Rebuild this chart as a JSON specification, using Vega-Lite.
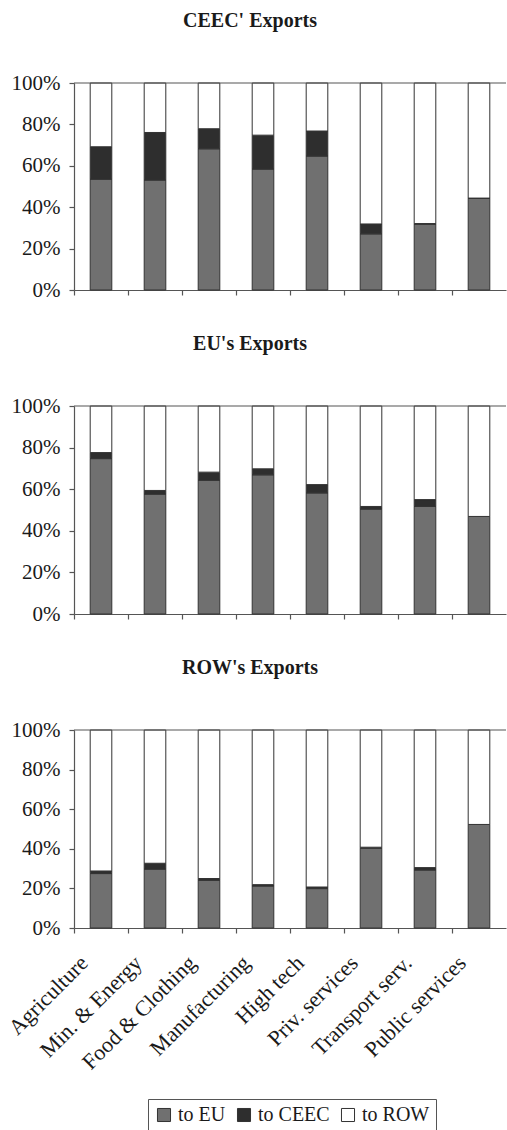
{
  "$schema": "https://vega.github.io/schema/vega-lite/v6.json",
  "background": "white",
  "padding": {"left": 4, "top": 11, "right": 0, "bottom": 0},
  "config": {
    "font": "Liberation Serif",
    "view": {"stroke": null},
    "concat": {"spacing": 34},
    "axis": {
      "grid": false,
      "domainColor": "#555555",
      "tickColor": "#555555",
      "domainWidth": 1.2,
      "tickWidth": 1.2,
      "tickSize": 5,
      "labelColor": "#1a1a1a",
      "labelFont": "Liberation Serif",
      "labelFontSize": 21,
      "labelOverlap": false,
      "title": null
    },
    "title": {
      "font": "Liberation Serif",
      "fontSize": 20,
      "fontWeight": "bold",
      "color": "#1a1a1a",
      "dx": -40,
      "offset": 41
    },
    "legend": {
      "orient": "none",
      "legendX": 74,
      "legendY": 1016
    }
  },
  "datasets": {
    "ceec": [
      {"sector": "Agriculture", "dest": "to EU", "share": 53.5, "ord": 1},
      {"sector": "Agriculture", "dest": "to CEEC", "share": 15.7, "ord": 2},
      {"sector": "Agriculture", "dest": "to ROW", "share": 30.8, "ord": 3},
      {"sector": "Min. & Energy", "dest": "to EU", "share": 53.1, "ord": 1},
      {"sector": "Min. & Energy", "dest": "to CEEC", "share": 23.0, "ord": 2},
      {"sector": "Min. & Energy", "dest": "to ROW", "share": 23.9, "ord": 3},
      {"sector": "Food & Clothing", "dest": "to EU", "share": 68.2, "ord": 1},
      {"sector": "Food & Clothing", "dest": "to CEEC", "share": 9.7, "ord": 2},
      {"sector": "Food & Clothing", "dest": "to ROW", "share": 22.1, "ord": 3},
      {"sector": "Manufacturing", "dest": "to EU", "share": 58.4, "ord": 1},
      {"sector": "Manufacturing", "dest": "to CEEC", "share": 16.4, "ord": 2},
      {"sector": "Manufacturing", "dest": "to ROW", "share": 25.2, "ord": 3},
      {"sector": "High tech", "dest": "to EU", "share": 64.7, "ord": 1},
      {"sector": "High tech", "dest": "to CEEC", "share": 12.1, "ord": 2},
      {"sector": "High tech", "dest": "to ROW", "share": 23.2, "ord": 3},
      {"sector": "Priv. services", "dest": "to EU", "share": 27.1, "ord": 1},
      {"sector": "Priv. services", "dest": "to CEEC", "share": 4.8, "ord": 2},
      {"sector": "Priv. services", "dest": "to ROW", "share": 68.1, "ord": 3},
      {"sector": "Transport serv.", "dest": "to EU", "share": 31.8, "ord": 1},
      {"sector": "Transport serv.", "dest": "to CEEC", "share": 0.3, "ord": 2},
      {"sector": "Transport serv.", "dest": "to ROW", "share": 67.9, "ord": 3},
      {"sector": "Public services", "dest": "to EU", "share": 44.4, "ord": 1},
      {"sector": "Public services", "dest": "to CEEC", "share": 0, "ord": 2},
      {"sector": "Public services", "dest": "to ROW", "share": 55.6, "ord": 3}
    ],
    "eu": [
      {"sector": "Agriculture", "dest": "to EU", "share": 74.7, "ord": 1},
      {"sector": "Agriculture", "dest": "to CEEC", "share": 2.9, "ord": 2},
      {"sector": "Agriculture", "dest": "to ROW", "share": 22.4, "ord": 3},
      {"sector": "Min. & Energy", "dest": "to EU", "share": 57.6, "ord": 1},
      {"sector": "Min. & Energy", "dest": "to CEEC", "share": 1.8, "ord": 2},
      {"sector": "Min. & Energy", "dest": "to ROW", "share": 40.6, "ord": 3},
      {"sector": "Food & Clothing", "dest": "to EU", "share": 64.3, "ord": 1},
      {"sector": "Food & Clothing", "dest": "to CEEC", "share": 3.9, "ord": 2},
      {"sector": "Food & Clothing", "dest": "to ROW", "share": 31.8, "ord": 3},
      {"sector": "Manufacturing", "dest": "to EU", "share": 66.9, "ord": 1},
      {"sector": "Manufacturing", "dest": "to CEEC", "share": 2.9, "ord": 2},
      {"sector": "Manufacturing", "dest": "to ROW", "share": 30.2, "ord": 3},
      {"sector": "High tech", "dest": "to EU", "share": 58.2, "ord": 1},
      {"sector": "High tech", "dest": "to CEEC", "share": 4.0, "ord": 2},
      {"sector": "High tech", "dest": "to ROW", "share": 37.8, "ord": 3},
      {"sector": "Priv. services", "dest": "to EU", "share": 50.4, "ord": 1},
      {"sector": "Priv. services", "dest": "to CEEC", "share": 1.3, "ord": 2},
      {"sector": "Priv. services", "dest": "to ROW", "share": 48.3, "ord": 3},
      {"sector": "Transport serv.", "dest": "to EU", "share": 51.7, "ord": 1},
      {"sector": "Transport serv.", "dest": "to CEEC", "share": 3.3, "ord": 2},
      {"sector": "Transport serv.", "dest": "to ROW", "share": 45.0, "ord": 3},
      {"sector": "Public services", "dest": "to EU", "share": 46.9, "ord": 1},
      {"sector": "Public services", "dest": "to CEEC", "share": 0, "ord": 2},
      {"sector": "Public services", "dest": "to ROW", "share": 53.1, "ord": 3}
    ],
    "row": [
      {"sector": "Agriculture", "dest": "to EU", "share": 27.5, "ord": 1},
      {"sector": "Agriculture", "dest": "to CEEC", "share": 1.3, "ord": 2},
      {"sector": "Agriculture", "dest": "to ROW", "share": 71.2, "ord": 3},
      {"sector": "Min. & Energy", "dest": "to EU", "share": 29.7, "ord": 1},
      {"sector": "Min. & Energy", "dest": "to CEEC", "share": 3.0, "ord": 2},
      {"sector": "Min. & Energy", "dest": "to ROW", "share": 67.3, "ord": 3},
      {"sector": "Food & Clothing", "dest": "to EU", "share": 24.1, "ord": 1},
      {"sector": "Food & Clothing", "dest": "to CEEC", "share": 0.9, "ord": 2},
      {"sector": "Food & Clothing", "dest": "to ROW", "share": 75.0, "ord": 3},
      {"sector": "Manufacturing", "dest": "to EU", "share": 21.2, "ord": 1},
      {"sector": "Manufacturing", "dest": "to CEEC", "share": 0.7, "ord": 2},
      {"sector": "Manufacturing", "dest": "to ROW", "share": 78.1, "ord": 3},
      {"sector": "High tech", "dest": "to EU", "share": 19.9, "ord": 1},
      {"sector": "High tech", "dest": "to CEEC", "share": 0.8, "ord": 2},
      {"sector": "High tech", "dest": "to ROW", "share": 79.3, "ord": 3},
      {"sector": "Priv. services", "dest": "to EU", "share": 40.3, "ord": 1},
      {"sector": "Priv. services", "dest": "to CEEC", "share": 0.5, "ord": 2},
      {"sector": "Priv. services", "dest": "to ROW", "share": 59.2, "ord": 3},
      {"sector": "Transport serv.", "dest": "to EU", "share": 29.3, "ord": 1},
      {"sector": "Transport serv.", "dest": "to CEEC", "share": 1.2, "ord": 2},
      {"sector": "Transport serv.", "dest": "to ROW", "share": 69.5, "ord": 3},
      {"sector": "Public services", "dest": "to EU", "share": 52.3, "ord": 1},
      {"sector": "Public services", "dest": "to CEEC", "share": 0, "ord": 2},
      {"sector": "Public services", "dest": "to ROW", "share": 47.7, "ord": 3}
    ]
  },
  "resolve": {"scale": {"color": "shared"}, "legend": {"color": "shared"}},
  "vconcat": [
    {
      "title": "CEEC' Exports",
      "width": 432,
      "height": 207,
      "layer": [
        {
          "data": {"name": "ceec"},
          "mark": {"type": "bar", "stroke": "#333333", "strokeWidth": 1},
          "encoding": {
            "x": {"field": "sector", "type": "nominal",
              "sort": ["Agriculture", "Min. & Energy", "Food & Clothing", "Manufacturing", "High tech", "Priv. services", "Transport serv.", "Public services"],
              "scale": {"paddingInner": 0.6, "paddingOuter": 0.3},
              "axis": {"labels": false, "bandPosition": 0, "tickOffset": -16.2}},
            "y": {"field": "share", "type": "quantitative", "stack": "normalize",
              "scale": {"domain": [0, 1]},
              "axis": {"format": ".0%", "values": [0, 0.2, 0.4, 0.6, 0.8, 1], "tickCount": 10, "labelPadding": 9, "labelOverlap": false}},
            "color": {"field": "dest", "type": "nominal",
              "scale": {"domain": ["to EU", "to CEEC", "to ROW"], "range": ["#707070", "#2e2e2e", "#ffffff"]},
              "legend": {"title": null, "direction": "horizontal", "symbolType": "square", "symbolSize": 170, "symbolStrokeColor": "#333333", "symbolStrokeWidth": 1, "labelFontSize": 20, "labelFont": "Liberation Serif", "labelColor": "#1a1a1a", "strokeColor": "#555555", "padding": 6, "columnPadding": 8, "labelLimit": 300}},
            "order": {"field": "ord"}
          }
        },
        {
          "data": {"values": [{}]},
          "mark": {"type": "rule", "color": "#555555", "strokeWidth": 1.2},
          "encoding": {"y": {"datum": 1}}
        }
      ]
    },
    {
      "title": "EU's Exports",
      "width": 432,
      "height": 208,
      "layer": [
        {
          "data": {"name": "eu"},
          "mark": {"type": "bar", "stroke": "#333333", "strokeWidth": 1},
          "encoding": {
            "x": {"field": "sector", "type": "nominal",
              "sort": ["Agriculture", "Min. & Energy", "Food & Clothing", "Manufacturing", "High tech", "Priv. services", "Transport serv.", "Public services"],
              "scale": {"paddingInner": 0.6, "paddingOuter": 0.3},
              "axis": {"labels": false, "bandPosition": 0, "tickOffset": -16.2}},
            "y": {"field": "share", "type": "quantitative", "stack": "normalize",
              "scale": {"domain": [0, 1]},
              "axis": {"format": ".0%", "values": [0, 0.2, 0.4, 0.6, 0.8, 1], "tickCount": 10, "labelPadding": 9, "labelOverlap": false}},
            "color": {"field": "dest", "type": "nominal",
              "scale": {"domain": ["to EU", "to CEEC", "to ROW"], "range": ["#707070", "#2e2e2e", "#ffffff"]},
              "legend": {"title": null, "direction": "horizontal", "symbolType": "square", "symbolSize": 170, "symbolStrokeColor": "#333333", "symbolStrokeWidth": 1, "labelFontSize": 20, "labelFont": "Liberation Serif", "labelColor": "#1a1a1a", "strokeColor": "#555555", "padding": 6, "columnPadding": 8, "labelLimit": 300}},
            "order": {"field": "ord"}
          }
        },
        {
          "data": {"values": [{}]},
          "mark": {"type": "rule", "color": "#555555", "strokeWidth": 1.2},
          "encoding": {"y": {"datum": 1}}
        }
      ]
    },
    {
      "title": "ROW's Exports",
      "width": 432,
      "height": 198,
      "layer": [
        {
          "data": {"name": "row"},
          "mark": {"type": "bar", "stroke": "#333333", "strokeWidth": 1},
          "encoding": {
            "x": {"field": "sector", "type": "nominal",
              "sort": ["Agriculture", "Min. & Energy", "Food & Clothing", "Manufacturing", "High tech", "Priv. services", "Transport serv.", "Public services"],
              "scale": {"paddingInner": 0.6, "paddingOuter": 0.3},
              "axis": {"labels": true, "bandPosition": 0, "tickOffset": -16.2, "labelAngle": -45, "labelAlign": "right", "labelBaseline": "middle", "labelFontSize": 22, "labelPadding": 26, "labelOffset": -1, "labelLimit": 300}},
            "y": {"field": "share", "type": "quantitative", "stack": "normalize",
              "scale": {"domain": [0, 1]},
              "axis": {"format": ".0%", "values": [0, 0.2, 0.4, 0.6, 0.8, 1], "tickCount": 10, "labelPadding": 9, "labelOverlap": false}},
            "color": {"field": "dest", "type": "nominal",
              "scale": {"domain": ["to EU", "to CEEC", "to ROW"], "range": ["#707070", "#2e2e2e", "#ffffff"]},
              "legend": {"title": null, "direction": "horizontal", "symbolType": "square", "symbolSize": 170, "symbolStrokeColor": "#333333", "symbolStrokeWidth": 1, "labelFontSize": 20, "labelFont": "Liberation Serif", "labelColor": "#1a1a1a", "strokeColor": "#555555", "padding": 6, "columnPadding": 8, "labelLimit": 300}},
            "order": {"field": "ord"}
          }
        },
        {
          "data": {"values": [{}]},
          "mark": {"type": "rule", "color": "#555555", "strokeWidth": 1.2},
          "encoding": {"y": {"datum": 1}}
        }
      ]
    }
  ]
}
